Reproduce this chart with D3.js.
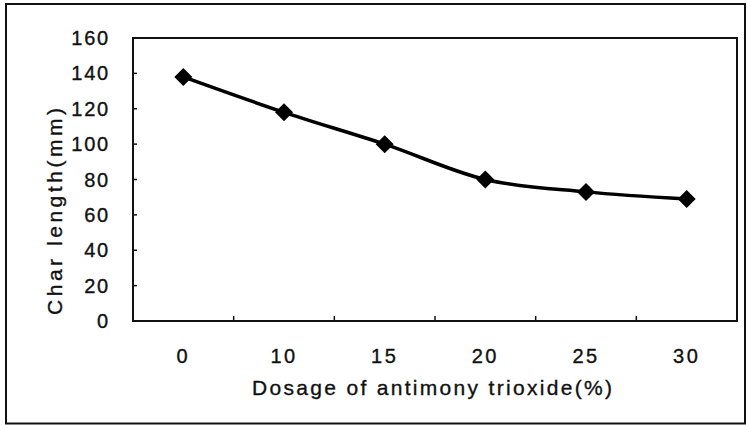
<!DOCTYPE html>
<html><head><meta charset="utf-8">
<script src="https://cdn.jsdelivr.net/npm/d3@7/dist/d3.min.js"></script>
<style>body{margin:0;background:#fff;}svg{display:block;}</style>
</head><body>
<script>
const categories = ["0","10","15","20","25","30"];
const charLength = [138, 118, 100, 80, 73, 69];
const yTicks = [0,20,40,60,80,100,120,140,160];
const xTitle = "Dosage of antimony trioxide(%)";
const yTitle = "Char length(mm)";

const W = 747, H = 425;
const svg = d3.select("body").append("svg").attr("width", W).attr("height", H);
const font = "'Liberation Sans', Arial, sans-serif";

svg.append("rect").attr("x",6).attr("y",4).attr("width",739).attr("height",419.5)
  .attr("fill","none").attr("stroke","#111").attr("stroke-width",2);

const L = 133, R = 737, T = 38, B = 321;
const x = d3.scaleBand().domain(categories).range([L, R]);
const y = d3.scaleLinear().domain([0,160]).range([B, T]);

svg.append("rect").attr("x",L).attr("y",T).attr("width",R-L).attr("height",B-T)
  .attr("fill","none").attr("stroke","#111").attr("stroke-width",2);

const txt = sel => sel.attr("font-family",font).attr("fill","#111")
  .attr("stroke","#111").attr("stroke-width",0.35);

// y ticks (inside)
svg.append("g").selectAll("line").data(yTicks).join("line")
  .attr("x1",L).attr("x2",L+4).attr("y1",d=>y(d)).attr("y2",d=>y(d))
  .attr("stroke","#111").attr("stroke-width",1.5);
svg.append("g").selectAll("text").data(yTicks).join("text")
  .attr("x",110).attr("y",d=>y(d)+7).attr("text-anchor","end")
  .attr("font-size",20).attr("letter-spacing",1.8)
  .call(txt).text(d=>d);

// x ticks between categories (inside)
const bounds = categories.slice(1).map(c => x(c));
svg.append("g").selectAll("line").data(bounds).join("line")
  .attr("x1",d=>d).attr("x2",d=>d).attr("y1",B).attr("y2",B-5)
  .attr("stroke","#111").attr("stroke-width",1.5);
svg.append("g").selectAll("text").data(categories).join("text")
  .attr("x",d=>x(d)+x.bandwidth()/2).attr("y",363).attr("text-anchor","middle")
  .attr("font-size",20).attr("letter-spacing",2.5)
  .call(txt).text(d=>d);

svg.append("text").attr("x",252).attr("y",395)
  .attr("font-size",21).attr("textLength",360).attr("lengthAdjust","spacing")
  .call(txt).text(xTitle);

svg.append("text").attr("transform","translate(62,315) rotate(-90)")
  .attr("font-size",21).attr("textLength",207).attr("lengthAdjust","spacing")
  .call(txt).text(yTitle);

const pts = categories.map((c,i)=>[x(c)+x.bandwidth()/2, y(charLength[i])]);
svg.append("path").attr("d", d3.line().curve(d3.curveCatmullRom.alpha(0))(pts))
  .attr("fill","none").attr("stroke","#000").attr("stroke-width",3.5);

svg.append("g").selectAll("path").data(pts).join("path")
  .attr("transform",d=>`translate(${d[0]},${d[1]})`)
  .attr("d","M0,-9L9,0L0,9L-9,0Z").attr("fill","#000");
</script>
</body></html>
